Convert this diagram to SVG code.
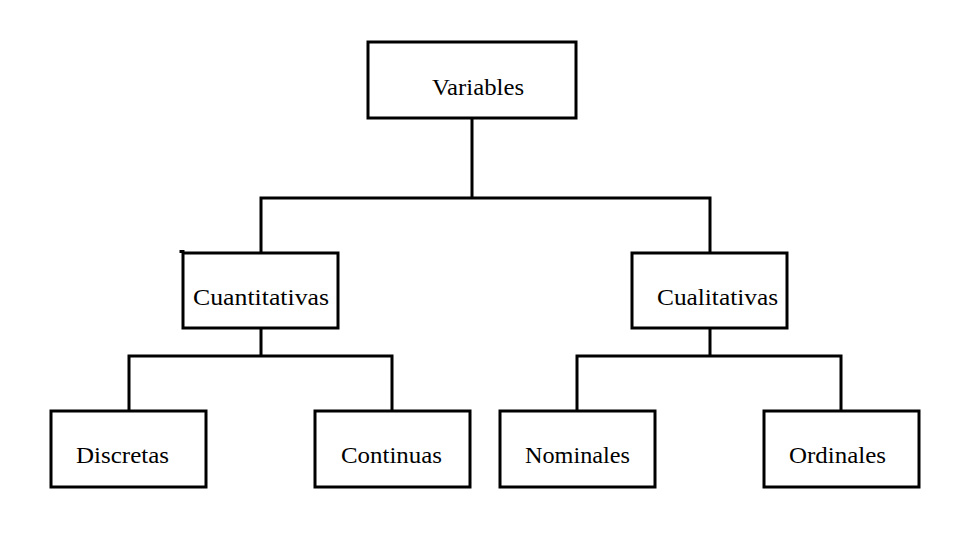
<svg xmlns="http://www.w3.org/2000/svg" width="962" height="556" viewBox="0 0 962 556">
<style>
.box{fill:#fff;stroke:#000;stroke-width:3}
.ln{fill:none;stroke:#000;stroke-width:3;stroke-linecap:square}
.t{font-family:"Liberation Serif","DejaVu Serif",serif;font-size:23.5px;fill:#000}
</style>
<rect width="962" height="556" fill="#fff"/>
<g id="connectors">
<path class="ln" d="M472 118V198M261 198H710M261 198V253M710 198V253"/>
<path class="ln" d="M261 328V356M129 356H392M129 356V411M392 356V411"/>
<path class="ln" d="M710 328V356M577 356H841M577 356V411M841 356V411"/>
</g>
<g id="variables"><rect class="box" x="368" y="42" width="208" height="76"/><text class="t" x="432" y="95" textLength="92" lengthAdjust="spacingAndGlyphs">Variables</text></g>
<g id="cuantitativas"><rect class="box" x="183" y="253" width="155" height="75"/><path class="ln" d="M181 251.5H183"/><text class="t" x="193" y="305" textLength="136" lengthAdjust="spacingAndGlyphs">Cuantitativas</text></g>
<g id="cualitativas"><rect class="box" x="632" y="253" width="155" height="75"/><text class="t" x="657" y="305" textLength="121" lengthAdjust="spacingAndGlyphs">Cualitativas</text></g>
<g id="discretas"><rect class="box" x="51" y="411" width="155" height="76"/><text class="t" x="76" y="463" textLength="93" lengthAdjust="spacingAndGlyphs">Discretas</text></g>
<g id="continuas"><rect class="box" x="315" y="411" width="155" height="76"/><text class="t" x="341" y="463" textLength="101" lengthAdjust="spacingAndGlyphs">Continuas</text></g>
<g id="nominales"><rect class="box" x="500" y="411" width="155" height="76"/><text class="t" x="525" y="463" textLength="105" lengthAdjust="spacingAndGlyphs">Nominales</text></g>
<g id="ordinales"><rect class="box" x="764" y="411" width="155" height="76"/><text class="t" x="789" y="463" textLength="97" lengthAdjust="spacingAndGlyphs">Ordinales</text></g>
</svg>
